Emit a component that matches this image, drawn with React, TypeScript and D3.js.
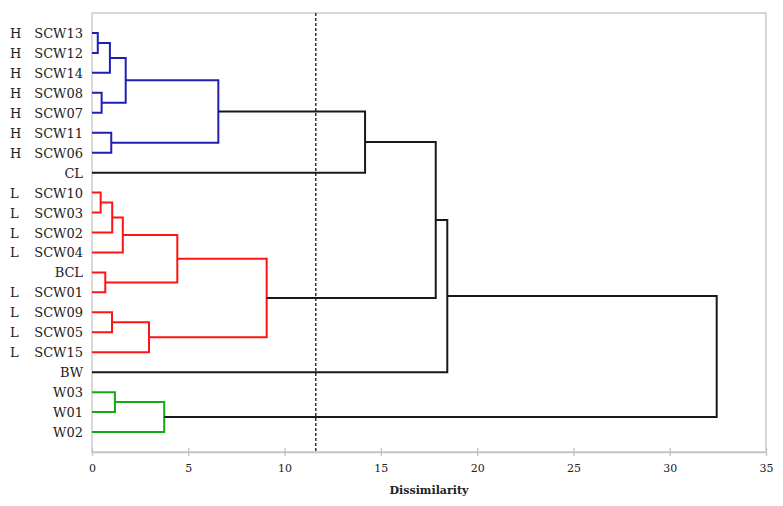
import * as d3 from "d3";
import React, { useEffect, useRef } from "react";

// leaves, top to bottom
const leaves = ["SCW13", "SCW12", "SCW14", "SCW08", "SCW07", "SCW11", "SCW06", "CL",
  "SCW10", "SCW03", "SCW02", "SCW04", "BCL", "SCW01", "SCW09", "SCW05", "SCW15", "BW",
  "W03", "W01", "W02"];
const groups = ["H", "H", "H", "H", "H", "H", "H", "",
  "L", "L", "L", "L", "", "L", "L", "L", "L", "",
  "", "", ""];

// merges (index >= leaves.length refers to a previous merge)
const mergeLeft = [0, 21, 3, 22, 5, 24, 26, 8, 28, 29, 12, 30, 14, 33, 32, 35, 36, 18, 38, 37];
const mergeRight = [1, 2, 4, 23, 6, 25, 7, 9, 10, 11, 13, 31, 15, 16, 34, 27, 17, 19, 20, 39];
const mergeHeight = [0.3, 0.93, 0.5, 1.75, 1.0, 6.56, 14.18, 0.45, 1.05, 1.6, 0.69, 4.43,
  1.04, 2.96, 9.07, 17.85, 18.45, 1.19, 3.75, 32.44];
const mergeCluster = ["H", "H", "H", "H", "H", "H", "", "L", "L", "L", "L", "L",
  "L", "L", "L", "", "", "W", "W", ""];

const xTicks = [0, 5, 10, 15, 20, 25, 30, 35];
const cutOff = 11.62;

const clusterColors: Record<string, string> = { H: "#1f1fb4", L: "#ff1414", W: "#14a814", "": "#151a1e" };
const serif = "'DejaVu Serif', 'Liberation Serif', serif";

export default function App() {
  const ref = useRef<SVGSVGElement>(null);

  useEffect(() => {
    const width = 783, height = 506;
    const margin = { top: 13, right: 17, bottom: 54, left: 92 };
    const svg = d3.select(ref.current);
    svg.selectAll("*").remove();

    const x = d3.scaleLinear().domain([0, 35]).range([margin.left, width - margin.right]);
    const y = d3.scalePoint<string>().domain(leaves).range([margin.top, height - margin.bottom]).padding(1);

    // node positions
    const nodeY: number[] = leaves.map((d) => y(d) as number);
    const nodeH: number[] = leaves.map(() => 0);
    mergeLeft.forEach((a, i) => {
      const b = mergeRight[i];
      nodeY.push((nodeY[a] + nodeY[b]) / 2);
      nodeH.push(mergeHeight[i]);
    });

    // frame
    svg.append("rect")
      .attr("x", x(0)).attr("y", margin.top)
      .attr("width", x(35) - x(0)).attr("height", height - margin.bottom - margin.top)
      .attr("fill", "none").attr("stroke", "#c4c4c4").attr("stroke-width", 1.3);

    // x axis
    const xAxis = d3.axisBottom(x).tickValues(xTicks).tickSize(4).tickSizeOuter(0);
    const gx = svg.append("g")
      .attr("transform", "translate(0," + (height - margin.bottom) + ")")
      .call(xAxis);
    gx.attr("font-family", serif);
    gx.select(".domain").attr("stroke", "#c4c4c4").attr("stroke-width", 1.3);
    gx.selectAll(".tick line").attr("stroke", "#c4c4c4").attr("stroke-width", 1.3).attr("y1", -4);
    gx.selectAll(".tick text")
      .attr("y", 12)
      .attr("fill", "#222")
      .style("font-family", serif)
      .style("font-size", "11px");

    svg.append("text")
      .attr("x", (x(0) + x(35)) / 2)
      .attr("y", 494)
      .attr("text-anchor", "middle")
      .style("font-family", serif)
      .style("font-weight", "bold")
      .style("font-size", "11px")
      .attr("fill", "#222")
      .text("Dissimilarity");

    // cut-off line
    svg.append("line")
      .attr("x1", x(cutOff)).attr("x2", x(cutOff))
      .attr("y1", margin.top).attr("y2", height - margin.bottom)
      .attr("stroke", "#333").attr("stroke-width", 1.5)
      .attr("stroke-dasharray", "3,2");

    // links
    svg.append("g").selectAll("path")
      .data(mergeLeft.map((a, i) => i))
      .enter().append("path")
      .attr("fill", "none")
      .attr("stroke-width", 2)
      .attr("stroke", (i) => clusterColors[mergeCluster[i]])
      .attr("d", (i) => {
        const a = mergeLeft[i], b = mergeRight[i];
        return "M" + x(nodeH[a]) + "," + nodeY[a] +
          "H" + x(mergeHeight[i]) +
          "V" + nodeY[b] +
          "H" + x(nodeH[b]);
      });

    // leaf labels
    const lab = svg.append("g")
      .style("font-family", serif)
      .style("font-size", "13px")
      .attr("fill", "#222");
    lab.selectAll(".name")
      .data(leaves)
      .enter().append("text")
      .attr("class", "name")
      .attr("x", 83)
      .attr("y", (d) => (y(d) as number) + 5)
      .attr("text-anchor", "end")
      .text((d) => d);
    lab.selectAll(".grp")
      .data(leaves)
      .enter().append("text")
      .attr("class", "grp")
      .attr("x", 10)
      .attr("y", (d) => (y(d) as number) + 5)
      .text((d, i) => groups[i]);
  }, []);

  return (
    <svg ref={ref} width={783} height={506}
      style={{ position: "absolute", left: 0, top: 0, background: "#fff" }} />
  );
}
